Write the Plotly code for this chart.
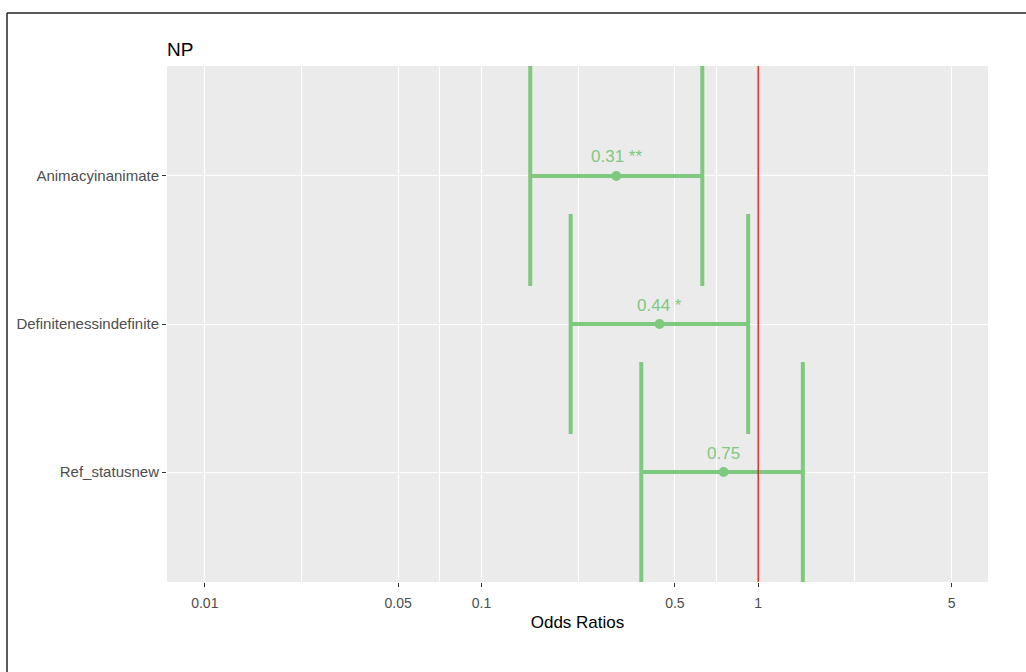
import math
import plotly.graph_objects as go

terms = ["Animacyinanimate", "Definitenessindefinite", "Ref_statusnew"]
estimates = [0.307, 0.44, 0.75]
ci_low = [0.150, 0.210, 0.378]
ci_high = [0.628, 0.920, 1.450]
labels = ["0.31 **", "0.44 *", "0.75"]
tick_vals = [0.01, 0.05, 0.1, 0.5, 1, 5]
tick_text = ["0.01", "0.05", "0.1", "0.5", "1", "5"]

GREEN = "#7FC97F"
FONT = "Liberation Sans"
ypos = list(range(1, len(terms) + 1))

W, H = 1026, 672
L, R, T, B = 167, 38, 66, 90

fig = go.Figure()
fig.add_trace(go.Scatter(
    x=estimates, y=ypos, mode="markers",
    marker=dict(color=GREEN, size=10),
    error_x=dict(type="data", symmetric=False,
                 array=[h - e for h, e in zip(ci_high, estimates)],
                 arrayminus=[e - l for e, l in zip(estimates, ci_low)],
                 color=GREEN, thickness=4, width=110),
    showlegend=False, hoverinfo="skip",
))
fig.add_trace(go.Scatter(
    x=[1, 1], y=[0.257, 3.743], mode="lines",
    line=dict(color="#E00000", width=1.2), showlegend=False, hoverinfo="skip",
))

for e, yv, t in zip(estimates, ypos, labels):
    fig.add_annotation(x=math.log10(e), y=yv, text=t, showarrow=False,
                       yshift=19, font=dict(family=FONT, size=17, color=GREEN))

minor_vals = [math.sqrt(a * b) for a, b in zip(tick_vals[:-1], tick_vals[1:])]

fig.update_xaxes(
    type="log", range=[math.log10(0.0073), math.log10(6.77)],
    tickmode="array", tickvals=tick_vals, ticktext=tick_text,
    showgrid=True, gridcolor="white", gridwidth=1.1,
    minor=dict(tickmode="array", tickvals=minor_vals, showgrid=True,
               gridcolor="white", gridwidth=0.5, ticks=""),
    ticks="outside", ticklen=4, tickcolor="#333333", tickwidth=1,
    ticklabelstandoff=4,
    tickfont=dict(family=FONT, size=14, color="#4D4D4D"),
    title=dict(text="Odds Ratios", font=dict(family=FONT, size=17, color="black"),
               standoff=6),
    zeroline=False, showline=False,
)
fig.update_yaxes(
    range=[3.743, 0.257], tickmode="array", tickvals=ypos, ticktext=terms,
    showgrid=True, gridcolor="white", gridwidth=1.1,
    ticks="outside", ticklen=4, tickcolor="#333333", tickwidth=1,
    tickfont=dict(family=FONT, size=15, color="#4D4D4D"),
    zeroline=False, showline=False,
)

# outer frame (top and left)
x_left = (7 - L) / (W - L - R)
y_top = (H - B - 13) / (H - T - B)
fig.add_shape(type="line", xref="paper", yref="paper", x0=x_left, x1=(W - L) / (W - L - R) + 0.01,
              y0=y_top, y1=y_top, line=dict(color="#222222", width=1.5))
fig.add_shape(type="line", xref="paper", yref="paper", x0=x_left, x1=x_left,
              y0=y_top, y1=-B / (H - T - B) - 0.01, line=dict(color="#222222", width=1.5))

fig.update_layout(
    width=W, height=H,
    margin=dict(l=L, r=R, t=T, b=B),
    plot_bgcolor="#EBEBEB", paper_bgcolor="white",
    title=dict(text="NP", x=L / W, xanchor="left", y=1 - 49 / H, yanchor="middle",
               font=dict(family=FONT, size=19, color="black")),
)

fig.write_html("out.html", config={"displayModeBar": False},
               post_script="document.body.style.margin='0px';document.body.style.overflow='hidden';")
